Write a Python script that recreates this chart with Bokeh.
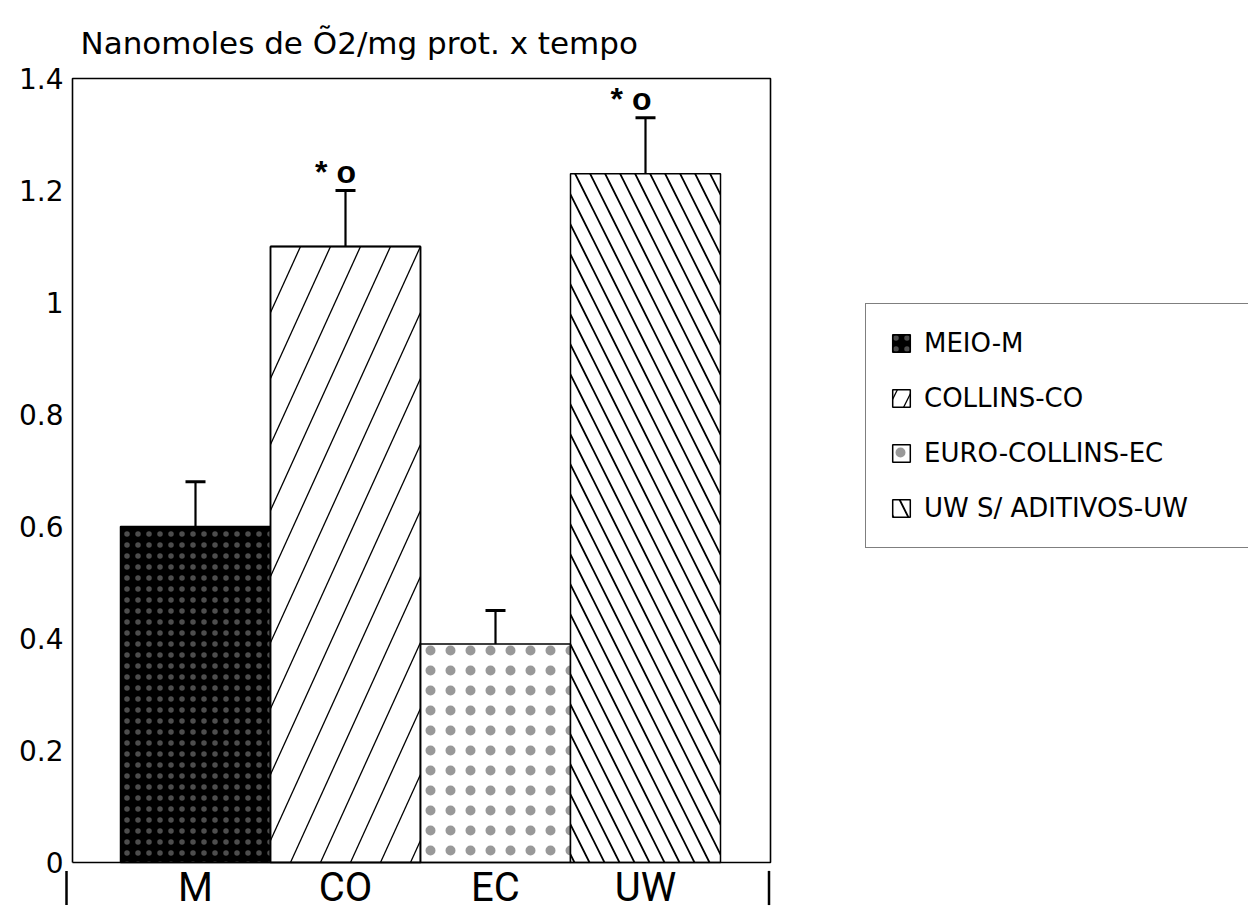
from bokeh.plotting import figure
from bokeh.models import (ColumnDataSource, Legend, LegendItem, Whisker, TeeHead,
                          FixedTicker, Range1d, LabelSet, Label)
from bokeh.core.properties import value
from bokeh.embed import file_html
from bokeh.resources import INLINE

# ---------------- data ----------------
categories = ["M", "CO", "EC", "UW"]
legend_labels = ["MEIO-M", "COLLINS-CO", "EURO-COLLINS-EC", "UW S/ ADITIVOS-UW"]
means = [0.60, 1.10, 0.39, 1.23]
errors = [0.08, 0.10, 0.06, 0.10]
marks = ["", "* o", "", "*  o"]
y_ticks = [0, 0.2, 0.4, 0.6, 0.8, 1.0, 1.2, 1.4]
y_tick_labels = ["0", "0.2", "0.4", "0.6", "0.8", "1", "1.2", "1.4"]
title_text = "Nanomoles de Õ2/mg prot. x tempo"

xs = list(range(1, len(categories) + 1))
upper = [m + e for m, e in zip(means, errors)]
src = ColumnDataSource(dict(x=xs, top=means, upper=upper, marks=marks,
                            cat=categories, zero=[0] * len(xs)))

# ---------------- layout ----------------
W, H = 1248, 915
BORDER_L = 64
Y_MAX = 1.4
PX_PER_Y = 560.0          # y=0 at 862 px, y=1.4 at 78 px
PX_PER_X = 150.0          # one bar = 150 px, x=1 centred at 195 px
BAR_W = 1.0
y_start = -(H - 862) / PX_PER_Y
y_end = Y_MAX + 78 / PX_PER_Y
x_start = 1 - (195 - BORDER_L) / PX_PER_X
x_end = 1 + (W - 195) / PX_PER_X
BOX_L = 1 - (195 - 72) / PX_PER_X
BOX_R = 1 + (770 - 195) / PX_PER_X

p = figure(width=W, height=H, output_backend="svg", toolbar_location=None,
           x_range=Range1d(x_start, x_end), y_range=Range1d(y_start, y_end),
           min_border_left=BORDER_L, min_border_right=0, min_border_top=0,
           min_border_bottom=0)
p.background_fill_color = "white"
p.border_fill_color = "white"
p.grid.visible = False
p.outline_line_color = None
p.xaxis.visible = False

# bar fills (styles only)
bar_styles = [
    dict(fill_color="black", hatch_pattern="dot", hatch_color="white",
         hatch_scale=11, hatch_weight=0.5, hatch_alpha=0.3),
    dict(fill_color="white"),
    dict(fill_color="white", hatch_pattern="dot", hatch_color="black",
         hatch_scale=20, hatch_weight=0.5, hatch_alpha=0.4),
    dict(fill_color="white", hatch_pattern="left_diagonal_line", hatch_color="black",
         hatch_scale=30, hatch_weight=1.8),
]
co_swatch_style = dict(fill_color="white", hatch_pattern="right_diagonal_line",
                       hatch_color="black", hatch_scale=30, hatch_weight=1.3)

bars = []
for i in range(len(categories)):
    r = p.vbar(x=[xs[i]], top=[means[i]], width=BAR_W, bottom=0,
               line_color="black", line_width=1.5, **bar_styles[i])
    bars.append(r)

# steep "/" hatching of the COLLINS bar, clipped to that bar's rectangle
STEEP = 2.2                       # pixel slope of the hatch lines
SPACING = 30 / PX_PER_X           # horizontal gap between lines
k = PX_PER_Y / (STEEP * PX_PER_X)
ci = 1
xl, xr, top = xs[ci] - BAR_W / 2, xs[ci] + BAR_W / 2, means[ci]
hx0, hy0, hx1, hy1 = [], [], [], []
c = xl - k * top
while c < xr:
    y_lo = max(0.0, (xl - c) / k)
    y_hi = min(top, (xr - c) / k)
    if y_hi > y_lo:
        hx0.append(c + k * y_lo); hy0.append(y_lo)
        hx1.append(c + k * y_hi); hy1.append(y_hi)
    c += SPACING
p.segment(x0=hx0, y0=hy0, x1=hx1, y1=hy1, line_color="black", line_width=1.3)
p.vbar(x=[xs[ci]], top=[means[ci]], width=BAR_W, bottom=0, fill_color=None,
       line_color="black", line_width=1.5)

# legend swatch for COLLINS: zero-height bar on top of the real one
co_proxy = p.vbar(x=[xs[ci]], top=[means[ci]], bottom=[means[ci]], width=BAR_W,
                  line_color="black", line_width=1.5, **co_swatch_style)

legend_renderers = [bars[0], co_proxy, bars[2], bars[3]]
items = [LegendItem(label=legend_labels[i], renderers=[legend_renderers[i]])
         for i in range(len(categories))]

# plot box
p.line([BOX_L, BOX_L, BOX_R, BOX_R, BOX_L], [0, Y_MAX, Y_MAX, 0, 0],
       line_color="black", line_width=1.6)
# end marks under the x axis
p.segment(x0=[BOX_L - 0.04, BOX_R - 0.01], x1=[BOX_L - 0.04, BOX_R - 0.01],
          y0=[-0.015, -0.015], y1=[-0.076, -0.076], line_color="black", line_width=2.5)

whisk = Whisker(source=src, base="x", lower="top", upper="upper",
                line_color="black", line_width=2.2,
                upper_head=TeeHead(size=20, line_width=3, line_color="black"),
                lower_head=None)
p.add_layout(whisk)

# significance marks
p.add_layout(LabelSet(source=src, x="x", y="upper", text="marks", x_offset=-10,
                      y_offset=19, text_align="center", text_baseline="middle",
                      text_font=value("Liberation Sans"), text_font_size="32px",
                      text_font_style="bold", text_color="black"))

# category labels
p.text(x="x", y="zero", text="cat", source=src, y_offset=1,
       text_align="center", text_baseline="top",
       text_font=value("Roboto"), text_font_size="40px", text_color="black")

# title
p.add_layout(Label(x=80 - BORDER_L, y=H - 42, x_units="screen", y_units="screen",
                   text=title_text, text_align="left", text_baseline="alphabetic",
                   text_font="DejaVu Sans", text_font_size="31px", text_color="black"))

# y axis
p.yaxis.ticker = FixedTicker(ticks=y_ticks)
p.yaxis.major_label_overrides = {t: l for t, l in zip(y_ticks, y_tick_labels)}
p.yaxis.axis_line_color = None
p.yaxis.major_tick_line_color = None
p.yaxis.minor_tick_line_color = None
p.yaxis.major_tick_out = 0
p.yaxis.major_tick_in = 0
p.yaxis.major_label_standoff = 1
p.yaxis.major_label_text_font = "DejaVu Sans"
p.yaxis.major_label_text_font_size = "28px"
p.yaxis.major_label_text_color = "black"

legend = Legend(items=items, location=(865 - BORDER_L, H - 548), orientation="vertical",
                padding=24, spacing=25, glyph_width=22, glyph_height=22,
                label_height=22, label_width=420, label_standoff=12,
                label_text_font="DejaVu Sans", label_text_font_size="26px",
                label_text_color="black", border_line_color="black",
                border_line_width=1.5, background_fill_color="white",
                background_fill_alpha=1.0)
p.add_layout(legend, "center")

open("out.html", "w").write(file_html(p, INLINE))
